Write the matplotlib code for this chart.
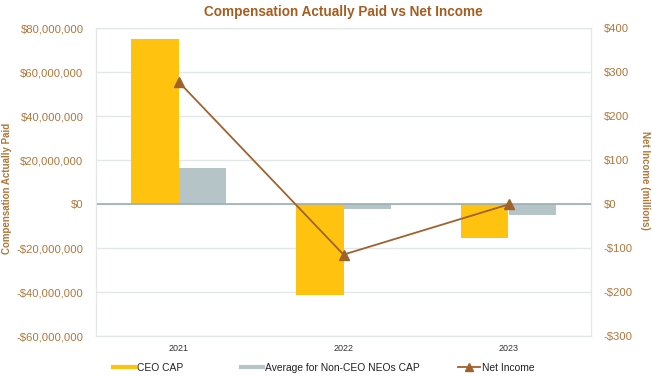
import matplotlib
matplotlib.use("Agg")
import matplotlib.pyplot as plt
import numpy as np
from matplotlib.ticker import FuncFormatter
from matplotlib.lines import Line2D

years = ["2021", "2022", "2023"]
ceo_cap = [75_000_000, -41_400_000, -15_500_000]
neo_cap = [16_500_000, -2_300_000, -5_000_000]
net_income = [278, -115, -1]

plt.rcParams['font.family'] = ['Liberation Sans', 'DejaVu Sans']

TXT = '#B0763A'
TITLE = '#A55E1F'
GRID = '#E2E8E8'
CEO_C = '#FFC20E'
NEO_C = '#B4C4C7'
LINE_C = '#A0622D'

W, H = 652, 377
fig = plt.figure(figsize=(W/100, H/100), dpi=100)
ax = fig.add_axes([96/W, 1-336/H, (591-96)/W, (336-28)/H])
x = np.arange(len(years))
w = 0.285
ax.bar(x - w/2, ceo_cap, w, color=CEO_C, label='CEO CAP', zorder=2)
ax.bar(x + w/2, neo_cap, w, color=NEO_C, label='Average for Non-CEO NEOs CAP', zorder=2)
ax.set_xlim(-0.5, 2.5)
ax.set_ylim(-60_000_000, 80_000_000)
ax.set_yticks(np.arange(-60_000_000, 80_000_001, 20_000_000))
def fmt(v, p):
    v = int(round(v))
    return ('-$' if v < 0 else '$') + f"{abs(v):,}"
ax.yaxis.set_major_formatter(FuncFormatter(fmt))
ax.grid(axis='y', color=GRID, lw=1, zorder=0)
ax.axhline(0, color='#9DAEB3', lw=1.2, zorder=3)
for s in ax.spines.values():
    s.set_color(GRID)
ax.tick_params(axis='y', length=0, labelsize=8.1, labelcolor=TXT, pad=9)
ax.set_xticks(x)
ax.set_xticklabels(years)
ax.tick_params(axis='x', length=0, labelsize=6.5, labelcolor='#333333', pad=6)
ax.set_ylabel('Compensation Actually Paid', color=TXT, fontsize=7.0, fontweight='bold', va='center')
ax.yaxis.set_label_coords((7-96)/(591-96), (336-188)/308)

ax2 = ax.twinx()
ax2.plot(x, net_income, color=LINE_C, lw=1.3, marker='^', markersize=6.5, label='Net Income', zorder=4)
ax2.set_ylim(-300, 400)
ax2.set_yticks(np.arange(-300, 401, 100))
ax2.yaxis.set_major_formatter(FuncFormatter(fmt))
ax2.tick_params(axis='y', length=0, labelsize=8.1, labelcolor=TXT, pad=9)
for s in ax2.spines.values():
    s.set_color(GRID)
ax2.set_ylabel('Net Income (millions)', color=TXT, fontsize=7.0, fontweight='bold', rotation=270, va='center')
ax2.yaxis.set_label_coords((645-96)/(591-96), (336-180)/308)

fig.text((96+591)/2/W, 1-12/H, 'Compensation Actually Paid vs Net Income', ha='center', va='center',
         color=TITLE, fontsize=9.8, fontweight='bold')

items = [
    (Line2D([], [], color=CEO_C, lw=3), 'CEO CAP', 113),
    (Line2D([], [], color=NEO_C, lw=3), 'Average for Non-CEO NEOs CAP', 241),
    (Line2D([], [], color=LINE_C, lw=1.3, marker='^', markersize=5.5), 'Net Income', 458),
]
for h, lab, xp in items:
    leg = fig.legend([h], [lab], loc='center left', bbox_to_anchor=(xp/W, 1-368/H), frameon=False,
                     fontsize=7.4, handlelength=2.1, handletextpad=0.2, borderaxespad=0, borderpad=0)
    for t in leg.get_texts():
        t.set_color('#222222')

fig.savefig('out.png', dpi=100)
